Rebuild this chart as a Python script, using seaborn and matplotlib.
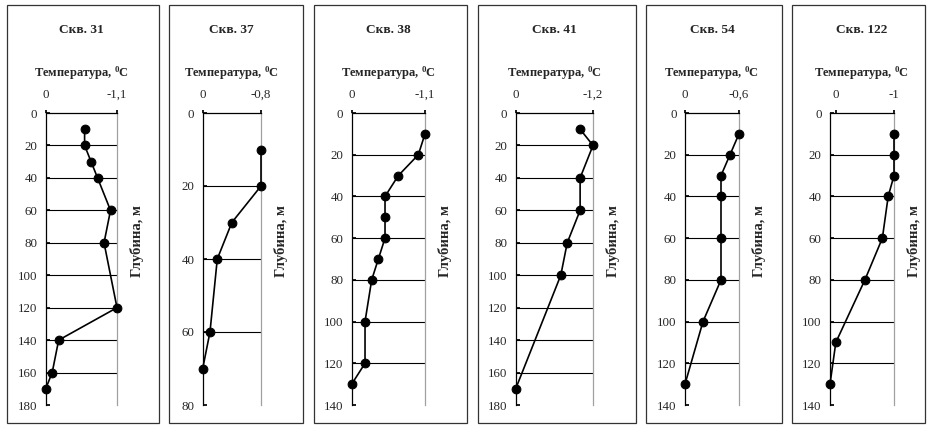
import matplotlib.pyplot as plt
import seaborn as sns
import pandas as pd
from matplotlib.patches import Rectangle

# данные по скважинам: глубина (м) и температура (°C)
wells = ["Скв. 31", "Скв. 37", "Скв. 38", "Скв. 41", "Скв. 54", "Скв. 122"]

depth_31 = [10, 20, 30, 40, 60, 80, 120, 140, 160, 170]
temp_31 = [-0.6, -0.6, -0.7, -0.8, -1.0, -0.9, -1.1, -0.2, -0.1, 0.0]
depth_37 = [10, 20, 30, 40, 60, 70]
temp_37 = [-0.8, -0.8, -0.4, -0.2, -0.1, 0.0]
depth_38 = [10, 20, 30, 40, 50, 60, 70, 80, 100, 120, 130]
temp_38 = [-1.1, -1.0, -0.7, -0.5, -0.5, -0.5, -0.4, -0.3, -0.2, -0.2, 0.0]
depth_41 = [10, 20, 40, 60, 80, 100, 170]
temp_41 = [-1.0, -1.2, -1.0, -1.0, -0.8, -0.7, 0.0]
depth_54 = [10, 20, 30, 40, 60, 80, 100, 130]
temp_54 = [-0.6, -0.5, -0.4, -0.4, -0.4, -0.4, -0.2, 0.0]
depth_122 = [10, 20, 30, 40, 60, 80, 110, 130]
temp_122 = [-1.0, -1.0, -1.0, -0.9, -0.8, -0.5, 0.0, 0.1]

depths = [depth_31, depth_37, depth_38, depth_41, depth_54, depth_122]
temps = [temp_31, temp_37, temp_38, temp_41, temp_54, temp_122]

x_limits = [(0, -1.1), (0, -0.8), (0, -1.1), (0, -1.2), (0, -0.6), (0.1, -1.0)]
x_ticks = [[0, -1.1], [0, -0.8], [0, -1.1], [0, -1.2], [0, -0.6], [0, -1.0]]
x_tick_labels = [["0", "-1,1"], ["0", "-0,8"], ["0", "-1,1"],
                 ["0", "-1,2"], ["0", "-0,6"], ["0", "-1"]]
depth_max = [180, 80, 140, 180, 140, 140]
depth_step = 20

# разметка в пикселях
W, H = 928, 425
axes_px = [(45.7, 117), (202.7, 261), (351.7, 425), (515.7, 593), (685, 739), (830, 894)]
box_px = [(7, 159), (169, 303), (314, 467), (478, 636), (646, 782), (792, 925)]
ax_top, ax_bottom = 113, 405
box_top, box_bottom = 5, 423

sns.set_theme(style="white")
plt.rcParams['font.family'] = ['Liberation Serif', 'DejaVu Serif']
plt.rcParams['mathtext.fontset'] = 'custom'
plt.rcParams['mathtext.rm'] = 'Liberation Serif'
plt.rcParams['mathtext.bf'] = 'Liberation Serif:bold'

fig = plt.figure(figsize=(W / 100, H / 100), dpi=100)

for i, name in enumerate(wells):
    x0, x1 = axes_px[i]
    b0, b1 = box_px[i]

    fig.patches.append(Rectangle((b0 / W, 1 - box_bottom / H), (b1 - b0) / W,
                                 (box_bottom - box_top) / H, transform=fig.transFigure,
                                 fill=False, edgecolor="#333333", linewidth=0.9))

    ax = fig.add_axes([x0 / W, 1 - ax_bottom / H, (x1 - x0) / W, (ax_bottom - ax_top) / H])
    df = pd.DataFrame({"temp": temps[i], "depth": depths[i]})

    yt = list(range(0, depth_max[i] + 1, depth_step))
    for t in yt[1:-1]:
        ax.axhline(t, color="black", linewidth=0.8, zorder=1)

    sns.lineplot(data=df, x="temp", y="depth", sort=False, estimator=None,
                 color="black", linewidth=1.2, marker="o", markersize=6.3,
                 markeredgecolor="black", ax=ax, zorder=3, clip_on=False)

    ax.set_xlim(*x_limits[i])
    ax.set_ylim(depth_max[i], 0)
    ax.set_yticks(yt)
    ax.set_yticklabels([str(t) for t in yt], fontsize=9.3)
    ax.set_xticks(x_ticks[i])
    ax.set_xticklabels(x_tick_labels[i], fontsize=9.3)
    ax.xaxis.tick_top()
    ax.tick_params(axis="x", direction="out", length=2, pad=7, color="black")
    ax.tick_params(axis="y", direction="in", length=3, pad=6, color="black", left=True)
    ax.set_xlabel("")
    ax.set_ylabel("")

    for side in ["left", "top"]:
        ax.spines[side].set_color("black")
        ax.spines[side].set_linewidth(0.9)
    ax.spines["right"].set_color("#a0a0a0")
    ax.spines["right"].set_linewidth(0.9)
    ax.spines["bottom"].set_visible(False)

    cx = (x0 + x1) / 2 / W
    fig.text(cx, 1 - 30 / H, name, ha="center", va="center",
             fontsize=9.6, fontweight="bold")
    fig.text(cx, 1 - 73 / H, r"Температура, $\mathbf{^0}$C", ha="center", va="center",
             fontsize=9, fontweight="bold")
    fig.text((x1 + 20) / W, 1 - 241 / H, "Глубина, м", ha="center", va="center",
             rotation=90, fontsize=10.5, fontweight="bold")

fig.savefig("out.png", dpi=100)
